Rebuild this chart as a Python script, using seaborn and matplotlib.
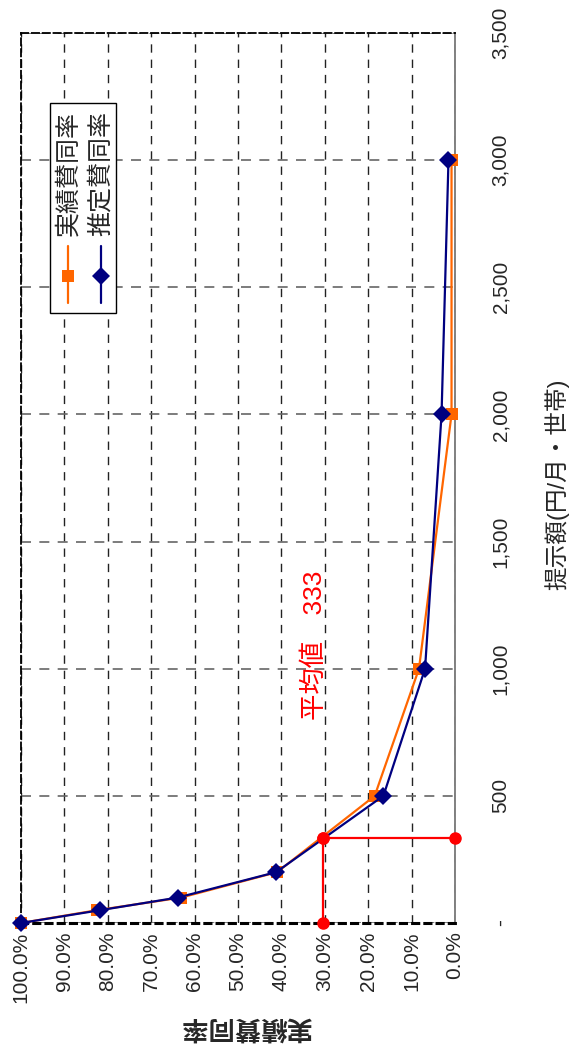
import numpy as np
import pandas as pd
import matplotlib
matplotlib.use('Agg')
import matplotlib.pyplot as plt
from matplotlib.patches import Rectangle
from matplotlib.lines import Line2D
import seaborn as sns

amounts = [0, 50, 100, 200, 500, 1000, 2000, 3000]
actual_rate = [100.0, 82.6, 63.1, 41.0, 18.5, 8.3, 0.8, 0.8]
est_rate = [100.0, 81.9, 63.9, 41.2, 16.5, 6.9, 3.1, 1.5]
series_names = ['実績賛同率', '推定賛同率']
avg_amount = 333
avg_rate = 30.4
avg_label = '平均値\u3000333'
rate_ticks = np.arange(0, 101, 10)
amount_ticks = np.arange(0, 3501, 500)

orange = '#FF6600'
navy = '#000080'

sns.set_style('white')
plt.rcParams['font.family'] = ['Liberation Sans', 'Noto Sans CJK JP']

df = pd.DataFrame({
    'amount': amounts + amounts,
    'rate': actual_rate + est_rate,
    'series': [series_names[0]] * len(amounts) + [series_names[1]] * len(amounts),
})

fig = plt.figure(figsize=(5.76, 10.63), dpi=100)
ax = fig.add_axes([21 / 576, 140 / 1063, 434 / 576, 890 / 1063])

sns.lineplot(data=df, x='rate', y='amount', hue='series', style='series',
             markers=['s', 'D'], dashes=False, palette=[orange, navy],
             estimator=None, sort=False, legend=False, ax=ax, lw=1.6,
             markersize=9, markeredgewidth=0, clip_on=False, zorder=4)

# average lines
ax.plot([avg_rate, 0], [avg_amount, avg_amount], color='red', lw=1.6,
        marker='o', ms=8, clip_on=False, zorder=5)
ax.plot([avg_rate, avg_rate], [avg_amount, 0], color='red', lw=1.6,
        marker='o', ms=8, clip_on=False, zorder=5)
ax.text(32.4, 1093, avg_label, color='red', fontsize=19, rotation=90,
        ha='center', va='center')

ax.set_xlim(100, 0)
ax.set_ylim(0, 3500)
ax.set_xticks(rate_ticks)
ax.set_xticklabels(['%.1f%%' % v for v in rate_ticks])
ax.set_yticks(amount_ticks)
ax.set_yticklabels(['-' if v == 0 else '{:,}'.format(v) for v in amount_ticks])

ax.yaxis.tick_right()
ax.tick_params(axis='x', rotation=90, labelsize=15, length=0, pad=6)
ax.tick_params(axis='y', labelsize=15, length=0, pad=26, labelright=True, labelleft=False)
for t in ax.get_yticklabels():
    t.set_rotation(90)
    t.set_va('center')
    t.set_ha('left')

ax.grid(axis='x', color='#222222', linestyle=(0, (6, 5)), lw=1.0)
ax.grid(axis='y', color='#666666', linestyle=(0, (6, 5)), lw=1.2)

for side in ['top', 'left']:
    ax.spines[side].set_linestyle((0, (4, 2)))
    ax.spines[side].set_color('black')
    ax.spines[side].set_linewidth(1.3)
ax.spines['bottom'].set_linestyle((0, (2, 2)))
ax.spines['bottom'].set_linewidth(2.2)
ax.spines['bottom'].set_color('black')
ax.spines['right'].set_color('#777777')
ax.spines['right'].set_linewidth(1.3)

ax.set_xlabel(series_names[0], fontsize=19, fontweight='bold', rotation=180)
ax.xaxis.set_label_coords(0.516, -0.103)
ax.yaxis.set_label_position('right')
ax.set_ylabel('提示額(円/月・世帯)', fontsize=17, rotation=90)
ax.yaxis.set_label_coords(1.205, 0.493)

# legend drawn vertically to match the rotated layout
ax.add_patch(Rectangle((0.067, 0.685), 0.152, 0.236, transform=ax.transAxes,
                       facecolor='white', edgecolor='black', lw=1.0, zorder=6))
legend_x = [0.108, 0.184]
for name, col, mk, lx in zip(series_names, [orange, navy], ['s', 'D'], legend_x):
    ax.add_line(Line2D([lx, lx], [0.697, 0.761], transform=ax.transAxes,
                       color=col, lw=1.6, zorder=7))
    ax.add_line(Line2D([lx], [0.727], transform=ax.transAxes, color=col,
                       marker=mk, ms=9, markeredgewidth=0, zorder=7))
    ax.text(lx, 0.772, name, transform=ax.transAxes, rotation=90,
            fontsize=18, ha='center', va='bottom', zorder=7)

fig.savefig('out.png', dpi=100)
